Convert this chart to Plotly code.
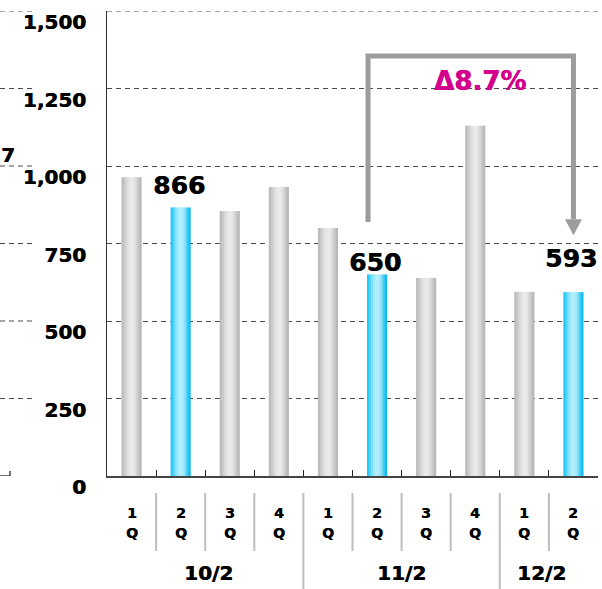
import plotly.graph_objects as go

# Quarterly figures, fiscal half-years 10/2 .. 12/2
periods = ["10/2", "10/2", "10/2", "10/2", "11/2", "11/2", "11/2", "11/2", "12/2", "12/2"]
quarters = ["1", "2", "3", "4", "1", "2", "3", "4", "1", "2"]
sales = [964, 866, 855, 932, 800, 650, 639, 1130, 594, 593]
highlight = [False, True, False, False, False, True, False, False, False, True]
y_ticks = [0, 250, 500, 750, 1000, 1250, 1500]

# bars that carry a value label, with the label's lift above the bar (px)
value_labels = {1: 22, 5: 12, 9: 34}

# comparison bracket: from 11/2 2Q to 12/2 2Q
cmp_from, cmp_to = 5, 9
change_text = "Δ8.7%"

FONT = "DejaVu Sans"
HEAVY = "0.6px 0 0 {c}"   # thickens the bold face slightly
GRAY = ["#bcbcbc", "#c9c9c9", "#d7d7d7", "#e2e2e2", "#e9e9e9",
        "#eaeaea", "#e3e3e3", "#d5d5d5", "#c6c6c6", "#b8b8b8"]
BLUE = ["#20c6f6", "#52d3f8", "#80dffa", "#a0e8fc", "#b2eefd",
        "#b0edfd", "#9ce7fc", "#72dbfa", "#36cbf7", "#10bbf2"]
ARROW = "#9c9c9c"
GRID = "#4a4a4a"
DASH = "5px,4px"
MAGENTA = "#d4008c"


def bold_font(size, color="black"):
    return dict(family=FONT, size=size, color=color, weight="bold",
                shadow=HEAVY.format(c=color))


idx = list(range(len(sales)))
fig = go.Figure()

# cylinder-like bars built from thin vertical slices
bar_w = 0.41
n = len(GRAY)
sw = bar_w / n
for k in range(n):
    colors = [BLUE[k] if h else GRAY[k] for h in highlight]
    fig.add_trace(go.Bar(
        x=idx, y=sales,
        width=sw * 1.5 if k < n - 1 else sw,
        offset=-bar_w / 2 + k * sw,
        marker=dict(color=colors, line=dict(width=0)),
        hoverinfo="skip", showlegend=False,
    ))

ann = []
# quarter labels under each bar
for i, q in enumerate(quarters):
    for line_text, drop in ((q, -37), ("Q", -57)):
        ann.append(dict(x=i, y=0, xref="x", yref="y", text=line_text,
                        showarrow=False, yshift=drop, yanchor="middle",
                        font=bold_font(14)))

# half-year group labels
group_shift = {"10/2": 3, "11/2": 0, "12/2": -7}
groups = []
for p in periods:
    if p not in groups:
        groups.append(p)
for g in groups:
    members = [i for i, p in enumerate(periods) if p == g]
    ann.append(dict(x=sum(members) / len(members), y=0, xref="x", yref="y",
                    text=g, showarrow=False, yshift=-97,
                    xshift=group_shift[g], yanchor="middle",
                    font=bold_font(20)))

# value labels
for i, lift in value_labels.items():
    ann.append(dict(x=i, y=sales[i], xref="x", yref="y", text=f"{sales[i]:,}",
                    showarrow=False, yshift=lift, yanchor="middle", xshift=-2,
                    font=bold_font(25)))

# change label inside the bracket
ann.append(dict(x=7.09, y=1274, xref="x", yref="y", text=change_text,
                showarrow=False, yanchor="middle",
                font=bold_font(26, MAGENTA)))

# edge of the neighbouring panel
ann.append(dict(x=0, y=1000, xref="paper", yref="y", text="7", showarrow=False,
                xanchor="right", xshift=-90, yshift=11, yanchor="middle",
                font=bold_font(20)))

shapes = []
# separators below the axis
for b in range(len(periods) - 1):
    year_break = periods[b] != periods[b + 1]
    shapes.append(dict(type="line", xref="x", yref="paper", ysizemode="pixel",
                       yanchor=0, x0=b + 0.5, x1=b + 0.5, y0=-17,
                       y1=-113 if year_break else -75,
                       line=dict(color="#bdbdbd", width=2)))

# top gridline
shapes.append(dict(type="line", xref="paper", yref="y", x0=0, x1=1,
                   y0=y_ticks[-1], y1=y_ticks[-1],
                   line=dict(color=GRID, width=1, dash=DASH)))

# bracket with arrow
top = 1355
x_left = cmp_from - 0.184
shapes.append(dict(type="path", xref="x", yref="y",
                   path=f"M {x_left},819 L {x_left},{top} L {cmp_to},{top} L {cmp_to},829",
                   line=dict(color=ARROW, width=5)))
shapes.append(dict(type="path", xref="x", yref="y", xsizemode="pixel",
                   ysizemode="pixel", xanchor=cmp_to, yanchor=777,
                   path="M -8.5,16 L 8.5,16 L 0,0 Z",
                   fillcolor=ARROW, line=dict(width=0)))

# gridline stubs of the neighbouring panel
for t in y_ticks[1:]:
    shapes.append(dict(type="line", xref="paper", yref="y", xsizemode="pixel",
                       xanchor=0, x0=-107, x1=-74, y0=t, y1=t,
                       line=dict(color=GRID, width=1, dash=DASH)))
shapes.append(dict(type="line", xref="paper", yref="y", xsizemode="pixel",
                   xanchor=0, x0=-107, x1=-97, y0=0, y1=0,
                   line=dict(color="#444", width=1.5)))
shapes.append(dict(type="line", xref="paper", yref="y", xsizemode="pixel",
                   ysizemode="pixel", xanchor=0, yanchor=0, x0=-97, x1=-97,
                   y0=0, y1=5, line=dict(color="#444", width=1.5)))

fig.update_layout(
    width=602, height=589,
    margin=dict(l=107, r=4, t=11, b=113),
    paper_bgcolor="white", plot_bgcolor="white",
    barmode="overlay", showlegend=False,
    font=dict(family=FONT, color="black"),
    xaxis=dict(range=[-0.5, 9.5], tickvals=[i + 0.5 for i in idx],
               ticks="inside", ticklen=6, tickcolor="#222", tickwidth=1,
               showticklabels=False, showline=True, linecolor="#444",
               linewidth=2, showgrid=False, zeroline=False, fixedrange=True),
    yaxis=dict(range=[0, 1500], tickvals=y_ticks, tickformat=",",
               showgrid=True, gridcolor=GRID, gridwidth=1, griddash=DASH,
               showline=True, linecolor="#333", linewidth=1, ticks="",
               tickfont=bold_font(20),
               ticklabelshift=11, ticklabelstandoff=16,
               zeroline=False, fixedrange=True),
    annotations=ann, shapes=shapes,
)

fig.write_html("out.html")
